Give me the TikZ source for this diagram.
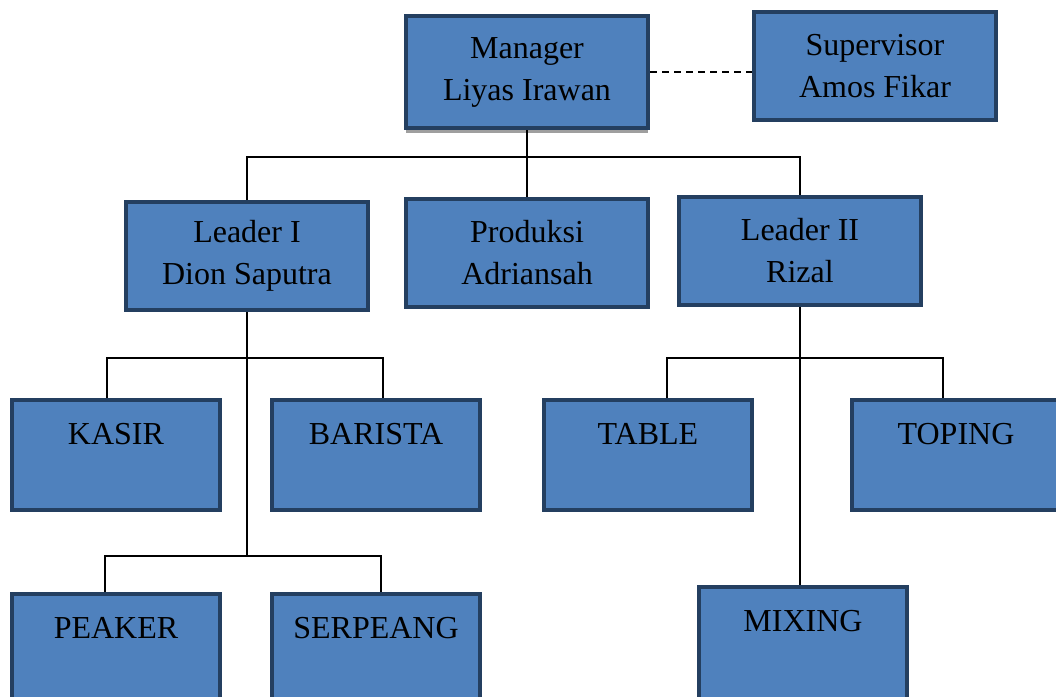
\documentclass[tikz,border=0pt]{standalone}
\usepackage{fontspec}
\setmainfont{Liberation Serif}
\usetikzlibrary{positioning,shadows}
\definecolor{boxfill}{HTML}{4F81BD}
\definecolor{boxline}{HTML}{243F60}
\tikzset{
    orgbox/.style = {
        draw = boxline,
        fill = boxfill,
        line width = 4pt,
        minimum width = 242pt,
        minimum height = 108pt,
        align = center,
        font = \fontsize{32}{42}\selectfont,
        text = black,
        },
    staffbox/.style = {
        orgbox,
        minimum width = 208pt,
        minimum height = 110pt,
        },
    conn/.style = {
        draw = black,
        line width = 2pt,
        },
}

\begin{document}
\begin{tikzpicture}[x=1pt, y=-1pt]
        \useasboundingbox (0,0) rectangle (1056,696);
        \clip (0,0) rectangle (1056,696);

        \node [orgbox, minimum height=112pt,
            drop shadow={shadow xshift=0pt, shadow yshift=-5pt, fill=gray!75, opacity=1}]
            (mgr) at (527,72) {Manager\\Liyas Irawan};
        \node [orgbox] (spv) at (875,66) {Supervisor\\Amos Fikar};

        \node [orgbox] (lead1) at (247,256) {Leader I\\Dion Saputra};
        \node [orgbox] (prod) at (527,253) {Produksi\\Adriansah};
        \node [orgbox] (lead2) at (800,251) {Leader II\\Rizal};

        \node [staffbox] (kasir) at (116,455) {KASIR\\~};
        \node [staffbox] (barista) at (376,455) {BARISTA\\~};
        \node [staffbox] (table) at (648,455) {TABLE\\~};
        \node [staffbox] (toping) at (956,455) {TOPING\\~};

        \node [staffbox] (peaker) at (116,649) {PEAKER\\~};
        \node [staffbox] (serpeang) at (376,649) {SERPEANG\\~};
        \node [staffbox, minimum height=124pt, text depth=14pt] (mixing) at (803,649) {MIXING\\~};

        % junction points
        \coordinate (top bar) at (527,157);
        \coordinate (kasir top) at (107,358);
        \coordinate (barista top) at (383,358);
        \coordinate (peaker top) at (105,556);
        \coordinate (serpeang top) at (381,556);
        \coordinate (table top) at (667,358);
        \coordinate (toping top) at (943,358);

        \draw [conn, dash pattern=on 7pt off 5pt] (mgr.east) -- (mgr.east -| spv.west);

        \draw [conn] (mgr.south) -- (prod.north);
        \draw [conn] (lead1.north) |- (top bar) -| (lead2.north);

        \draw [conn] (lead1.south) -- (lead1.south |- peaker top);
        \draw [conn] (kasir.north -| kasir top) -- (kasir top) -- (barista top) -- (barista.north -| barista top);
        \draw [conn] (peaker.north -| peaker top) -- (peaker top) -- (serpeang top) -- (serpeang.north -| serpeang top);

        \draw [conn] (lead2.south) -- (mixing.north -| lead2.south);
        \draw [conn] (table.north -| table top) -- (table top) -- (toping top) -- (toping.north -| toping top);

\end{tikzpicture}
\end{document}
